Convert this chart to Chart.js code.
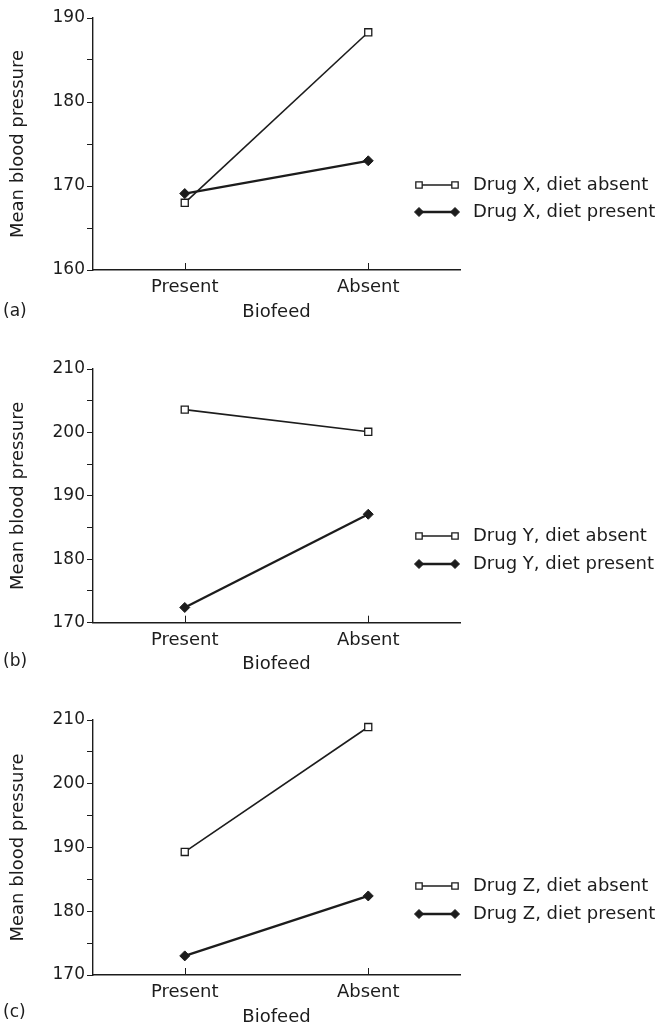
<!DOCTYPE html>
<html>
<head>
<meta charset="utf-8">
<script src="https://cdn.jsdelivr.net/npm/chart.js@4.4.1/dist/chart.umd.min.js"></script>
<style>
  html, body { margin: 0; padding: 0; background: #fff; }
  #wrap { position: relative; width: 660px; height: 1029px; }
  #wrap canvas { position: absolute; left: 0; }
</style>
</head>
<body>
<div id="wrap">
  <canvas id="chartA" width="660" height="345" style="top:0px"></canvas>
  <canvas id="chartB" width="660" height="350" style="top:345px"></canvas>
  <canvas id="chartC" width="660" height="334" style="top:695px"></canvas>
</div>
<script>
// ── data ──
const biofeed = ['Present', 'Absent'];

const drugXDietAbsent  = [168.0, 188.3];
const drugXDietPresent = [169.1, 173.0];
const drugYDietAbsent  = [203.6, 200.1];
const drugYDietPresent = [172.4, 187.1];
const drugZDietAbsent  = [189.3, 208.9];
const drugZDietPresent = [173.0, 182.4];

const legendX = ['Drug X, diet absent', 'Drug X, diet present'];
const legendY = ['Drug Y, diet absent', 'Drug Y, diet present'];
const legendZ = ['Drug Z, diet absent', 'Drug Z, diet present'];

const yRangeA = [160, 190];
const yRangeB = [170, 210];
const yRangeC = [170, 210];
const yStep = 5;

const FONT = '"DejaVu Sans", "Liberation Sans", Arial, sans-serif';
const INK = '#1c1c1c';

// legend drawn to the right of the plot, line with a marker at each end
const sideLegend = {
  id: 'sideLegend',
  afterDraw(chart, args, opts) {
    const ctx = chart.ctx;
    ctx.save();
    chart.data.datasets.forEach((ds, i) => {
      const y = opts.rows[i];
      ctx.strokeStyle = INK;
      ctx.lineWidth = ds.borderWidth;
      ctx.beginPath();
      ctx.moveTo(opts.x0, y);
      ctx.lineTo(opts.x1, y);
      ctx.stroke();
      const pt = { pointStyle: ds.pointStyle, radius: ds.pointRadius - 0.5, rotation: 0, borderWidth: ds.pointBorderWidth };
      ctx.fillStyle = ds.pointBackgroundColor;
      ctx.strokeStyle = ds.pointBorderColor;
      ctx.lineWidth = ds.pointBorderWidth;
      Chart.helpers.drawPoint(ctx, pt, opts.x0, y);
      Chart.helpers.drawPoint(ctx, pt, opts.x1, y);
      ctx.fillStyle = INK;
      ctx.font = '18px ' + FONT;
      ctx.textBaseline = 'middle';
      ctx.textAlign = 'left';
      ctx.fillText(ds.label, opts.textX, y);
    });
    // panel letter
    ctx.font = '17px ' + FONT;
    ctx.fillText(opts.panel, 3, opts.panelY);
    // small inward tick marks on the category axis
    const xs = chart.scales.x;
    ctx.strokeStyle = INK;
    ctx.lineWidth = 1;
    xs.ticks.forEach((t, i) => {
      const px = Math.round(xs.getPixelForTick(i)) + 0.5;
      ctx.beginPath();
      ctx.moveTo(px, chart.chartArea.bottom);
      ctx.lineTo(px, chart.chartArea.bottom - 7);
      ctx.stroke();
    });
    ctx.restore();
  }
};

function makePanel(id, labels, absent, present, range, lay) {
  const H = document.getElementById(id).height;
  const xScaleH = H - lay.axisY;
  new Chart(document.getElementById(id), {
    type: 'line',
    data: {
      labels: biofeed,
      datasets: [
        {
          label: labels[0],
          data: absent,
          borderColor: INK,
          borderWidth: 1.6,
          pointStyle: 'rect',
          pointRadius: 5,
          pointBackgroundColor: '#fff',
          pointBorderColor: INK,
          pointBorderWidth: 1.3,
          tension: 0,
          clip: false
        },
        {
          label: labels[1],
          data: present,
          borderColor: INK,
          borderWidth: 2.3,
          pointStyle: 'rectRot',
          pointRadius: 5,
          pointBackgroundColor: INK,
          pointBorderColor: INK,
          pointBorderWidth: 1,
          tension: 0,
          clip: false
        }
      ]
    },
    options: {
      responsive: false,
      animation: false,
      devicePixelRatio: 1,
      layout: { padding: { top: lay.top, right: 200, bottom: 0, left: 0 } },
      plugins: {
        legend: { display: false },
        tooltip: { enabled: false },
        sideLegend: { rows: lay.rows, x0: 419, x1: 455, textX: 473, panel: lay.panel, panelY: lay.panelY }
      },
      scales: {
        x: {
          offset: true,
          afterFit: s => { s.height = xScaleH; },
          grid: { display: true, drawOnChartArea: false, drawTicks: false },
          border: { display: true, color: INK, width: 1.4 },
          ticks: { color: INK, padding: 7, font: { family: FONT, size: 18 } },
          title: {
            display: true, text: 'Biofeed', color: INK,
            font: { family: FONT, size: 18, lineHeight: 1.2 },
            padding: { top: 0, bottom: xScaleH - 42 - 10.8 }
          }
        },
        y: {
          min: range[0], max: range[1],
          afterFit: s => { s.width = 93; },
          grid: { drawOnChartArea: false, drawTicks: true, tickLength: 6, color: INK, lineWidth: 1 },
          border: { display: true, color: INK, width: 1.4 },
          ticks: {
            stepSize: yStep, autoSkip: false, color: INK, padding: 2,
            font: { family: FONT, size: 17 },
            callback: v => (v % 10 === 0 ? v : '')
          },
          title: {
            display: true, text: 'Mean blood pressure', color: INK,
            font: { family: FONT, size: 18, lineHeight: 1.2 },
            padding: { top: 8, bottom: 0 }
          }
        }
      }
    },
    plugins: [sideLegend]
  });
}

makePanel('chartA', legendX, drugXDietAbsent, drugXDietPresent, yRangeA,
  { top: 18, axisY: 270, rows: [185, 212], panel: '(a)', panelY: 312 });
makePanel('chartB', legendY, drugYDietAbsent, drugYDietPresent, yRangeB,
  { top: 24, axisY: 277.7, rows: [191, 219], panel: '(b)', panelY: 317 });
makePanel('chartC', legendZ, drugZDietAbsent, drugZDietPresent, yRangeC,
  { top: 25, axisY: 280, rows: [191, 219], panel: '(c)', panelY: 318 });
</script>
</body>
</html>
